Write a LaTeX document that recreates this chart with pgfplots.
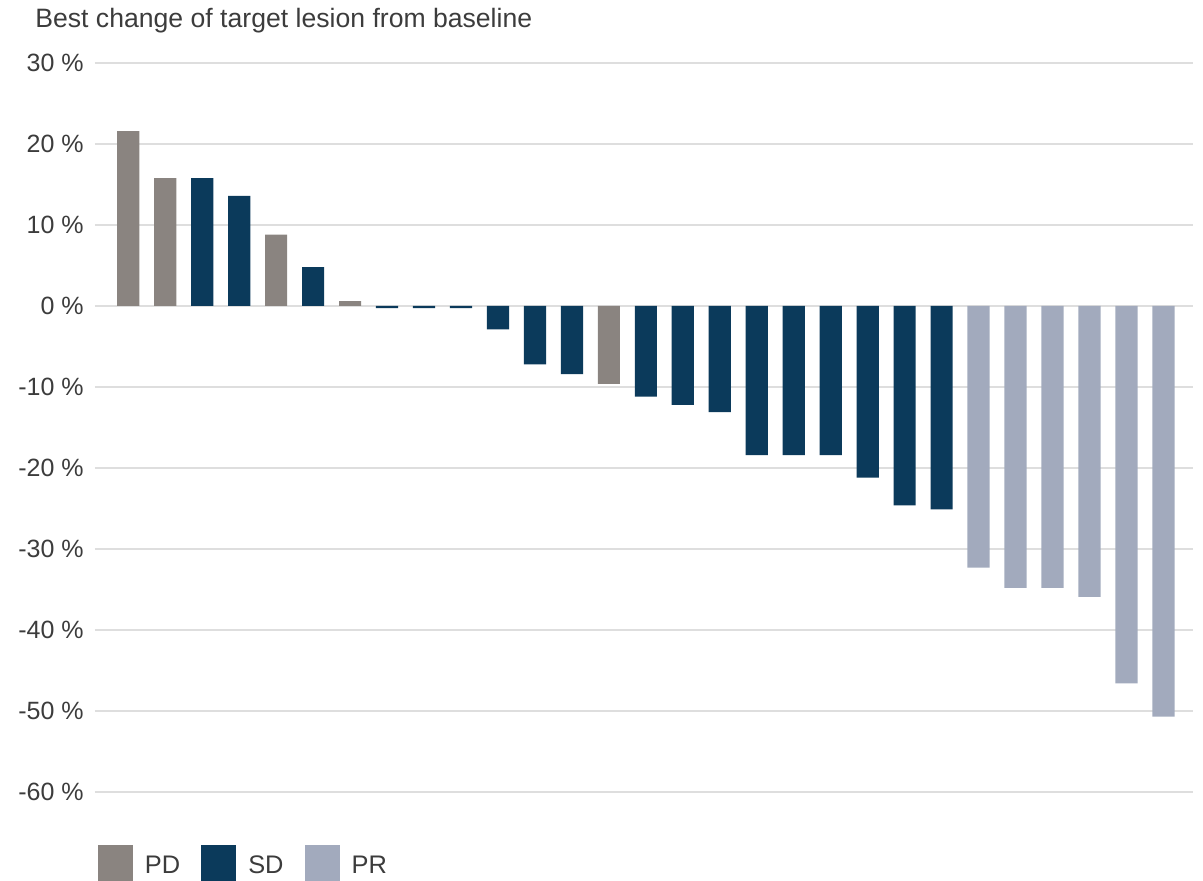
\documentclass[border=0pt]{standalone}
\usepackage{pgfplots}
\pgfplotsset{compat=1.18}
\usepackage{pgfplotstable}
\usepackage{fontspec}
\setmainfont{Liberation Sans}
\definecolor{pdcol}{HTML}{8A8480}
\definecolor{sdcol}{HTML}{0B3A5B}
\definecolor{prcol}{HTML}{A2AABD}
\definecolor{txtcol}{HTML}{3C3C3C}
\definecolor{gridcol}{HTML}{DEDEDE}

\pgfplotstableread{
x y
1 21.6
2 15.8
5 8.8
7 0.6
14 -9.6
}\pd
\pgfplotstableread{
x y
3 15.8
4 13.6
6 4.8
8 -0.25
9 -0.25
10 -0.25
11 -2.9
12 -7.2
13 -8.4
15 -11.2
16 -12.2
17 -13.1
18 -18.4
19 -18.4
20 -18.4
21 -21.2
22 -24.6
23 -25.1
}\sd
\pgfplotstableread{
x y
24 -32.3
25 -34.8
26 -34.8
27 -35.9
28 -46.6
29 -50.7
}\pr

\begin{document}
\begin{tikzpicture}
\begin{axis}[
  scale only axis,
  width=549pt, height=364.5pt,
  xmin=0.1, xmax=29.8,
  ymin=-60, ymax=30,
  axis x line=none,
  axis y line*=left,
  y axis line style={draw=none},
  major tick length=0pt,
  ytick={-60,-50,-40,-30,-20,-10,0,10,20,30},
  yticklabels={-60 \%,-50 \%,-40 \%,-30 \%,-20 \%,-10 \%,0 \%,10 \%,20 \%,30 \%},
  yticklabel style={inner sep=0pt, xshift=-5.5pt, font=\fontsize{12.5}{15}\selectfont, text=txtcol},
  ymajorgrids,
  major grid style={color=gridcol, line width=1pt},
  clip=false,
  legend columns=-1,
  legend style={draw=none, fill=none, at={(0,0)}, anchor=north west,
    xshift=1.5pt, yshift=-26.5pt, inner sep=0pt, outer sep=0pt,
    font=\fontsize{12.7}{15}\selectfont, text=txtcol,
    /tikz/every odd column/.append style={column sep=4pt},
    /tikz/every even column/.append style={column sep=8.5pt}},
  legend image code/.code={\fill[#1, draw=none] (0pt,-12pt) rectangle (17.5pt,10.5pt);},
]
\addplot[ybar, bar width=0.6, bar shift=0pt, fill=pdcol, draw=none] table[x=x,y=y]{\pd};
\addplot[ybar, bar width=0.6, bar shift=0pt, fill=sdcol, draw=none] table[x=x,y=y]{\sd};
\addplot[ybar, bar width=0.6, bar shift=0pt, fill=prcol, draw=none] table[x=x,y=y]{\pr};
\legend{PD,SD,PR}
\end{axis}
\node[anchor=base west, inner sep=0pt, text=txtcol, font=\fontsize{13.3}{15}\selectfont]
  at ([xshift=-30pt, yshift=17.5pt]current axis.north west) {Best change of target lesion from baseline};
\pgfresetboundingbox
\path[use as bounding box] ([xshift=-47.5pt,yshift=-44.5pt]current axis.south west) rectangle ([xshift=5pt,yshift=31.5pt]current axis.north east);
\end{tikzpicture}
\end{document}
